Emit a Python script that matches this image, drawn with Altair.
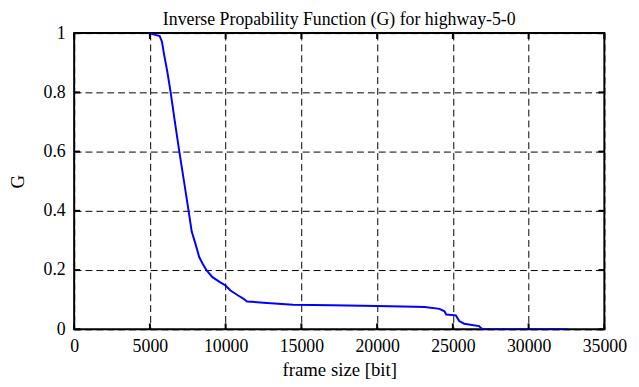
import altair as alt
import pandas as pd

# curve: frame size [bit] vs G
frame_size = [4890, 5300, 5650, 5800, 5930, 6150, 6370, 6650, 6950, 7250, 7560, 7760,
              8000, 8260, 8500, 8760, 9130, 9600, 9990, 10320, 10800, 11190, 11410,
              12500, 14450, 17000, 20000, 22490, 23140, 24120, 24450, 24560, 25200,
              25420, 25750, 26730, 26940, 28000, 30000, 32590]
g_value = [1.0, 0.995, 0.99, 0.97, 0.93, 0.87, 0.80, 0.70, 0.597, 0.50, 0.398, 0.33,
           0.29, 0.243, 0.22, 0.198, 0.176, 0.16, 0.148, 0.131, 0.115, 0.103, 0.094,
           0.09, 0.083, 0.081, 0.079, 0.076, 0.075, 0.069, 0.061, 0.05, 0.047,
           0.028, 0.019, 0.011, 0.0, 0.0, 0.0, 0.0]

x_ticks = [0, 5000, 10000, 15000, 20000, 25000, 30000, 35000]
y_ticks = [0, 0.2, 0.4, 0.6, 0.8, 1.0]

df = pd.DataFrame({"x": frame_size, "g": g_value})

FONT = "Liberation Serif"
xs = alt.Scale(domain=[0, 35000], nice=False, zero=False)
ys = alt.Scale(domain=[0, 1], nice=False, zero=False)

line = alt.Chart(df).mark_line(color="#0000ff", strokeWidth=2, clip=True).encode(
    x=alt.X("x:Q", scale=xs, title="frame size [bit]",
            axis=alt.Axis(values=x_ticks, grid=True, gridDash=[7, 4], gridColor="black",
                          gridWidth=1, gridOpacity=1, ticks=False, domain=False,
                          labelPadding=8, format="d", labelFlush=False,
                          titlePadding=6)),
    y=alt.Y("g:Q", scale=ys, title="G",
            axis=alt.Axis(values=y_ticks, grid=True, gridDash=[7, 4], gridColor="black",
                          gridWidth=1, gridOpacity=1, ticks=False, domain=False,
                          labelPadding=9, labelExpr="datum.value == 0 ? '0' : datum.value == 1 ? '1' : format(datum.value, '.1f')",
                          labelFlush=False, titlePadding=16)),
)

# inward ticks built from the tick lists through the scales
tick_len_x = 6 / 300.0
tick_len_y = 6 * 35000 / 537.0
bt = pd.DataFrame({"x": x_ticks, "y0": [0] * len(x_ticks), "y1": [tick_len_x] * len(x_ticks)})
tt = pd.DataFrame({"x": x_ticks, "y0": [1] * len(x_ticks), "y1": [1 - tick_len_x] * len(x_ticks)})
lt = pd.DataFrame({"y": y_ticks, "x0": [0] * len(y_ticks), "x1": [tick_len_y] * len(y_ticks)})
rt = pd.DataFrame({"y": y_ticks, "x0": [35000] * len(y_ticks), "x1": [35000 - tick_len_y] * len(y_ticks)})

def vticks(d):
    return alt.Chart(d).mark_rule(color="black", strokeWidth=2).encode(
        x=alt.X("x:Q", scale=xs), y=alt.Y("y0:Q", scale=ys), y2="y1:Q")

def hticks(d):
    return alt.Chart(d).mark_rule(color="black", strokeWidth=2).encode(
        y=alt.Y("y:Q", scale=ys), x=alt.X("x0:Q", scale=xs), x2="x1:Q")

chart = alt.layer(line, vticks(bt), vticks(tt), hticks(lt), hticks(rt)).properties(
    width=537, height=300,
    background="white",
    title=alt.Title("Inverse Propability Function (G) for highway-5-0",
                    font=FONT, fontSize=18, fontWeight="normal", color="black", offset=-5),
    autosize=alt.AutoSizeParams(type="none"),
    padding={"left": 67, "top": 23, "right": 27, "bottom": 56},
).configure_view(stroke="black", strokeWidth=2).configure_axis(
    labelFont=FONT, titleFont=FONT, labelFontSize=18, titleFontSize=19,
    labelColor="black", titleColor="black", titleFontWeight="normal",
)

chart.save("out.html", embed_options={"renderer": "svg", "actions": False})
